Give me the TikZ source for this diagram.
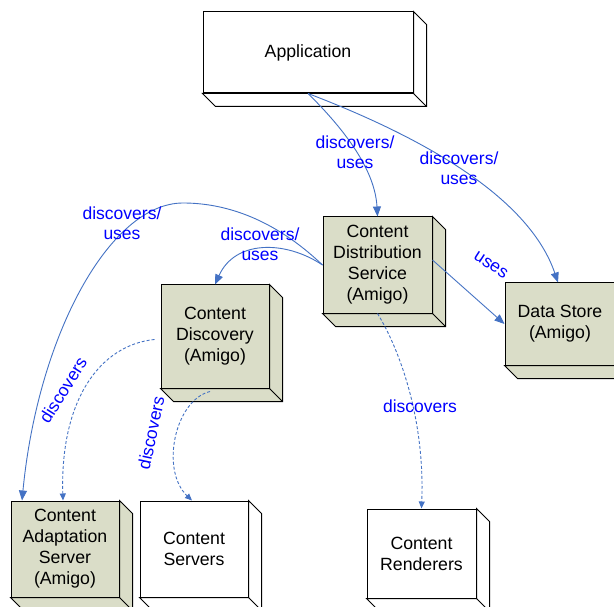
\documentclass[tikz,border=0pt]{standalone}
\usepackage{fontspec}
\setmainfont{Liberation Sans}
\usetikzlibrary{arrows.meta,calc}
\definecolor{boxfill}{RGB}{218,221,200}
\definecolor{linkblue}{RGB}{68,114,196}
\definecolor{labelblue}{RGB}{0,0,255}
\tikzset{
  box3d/.style={draw=black, line width=1pt, align=center, inner sep=0pt,
    font=\fontsize{17.7}{21}\selectfont},
  amigo/.style={box3d, fill=boxfill},
  plainbox/.style={box3d, fill=white},
  link/.style={draw=linkblue, line width=0.9pt, -{Triangle[length=10pt,width=8pt]}},
  dlink/.style={draw=linkblue, line width=0.9pt, dash pattern=on 3pt off 2pt,
    -{Triangle[length=7pt,width=6pt]}},
  lbl/.style={text=labelblue, align=center, inner sep=0pt,
    font=\fontsize{17.5}{20.5}\selectfont},
}
\newcommand\boxdepth[2]{%
  \draw[line width=1pt, fill=#2] (#1.north east) -- ++(13,13)
    -- ($(#1.south east)+(13,13)$) -- ($(#1.south west)+(13,13)$)
    -- (#1.south west) -- (#1.south east) -- cycle;
  \draw[line width=1pt] (#1.south east) -- ++(13,13);
}
\begin{document}
\begin{tikzpicture}[x=1pt,y=-1pt]
\clip (0,0) rectangle (614,607);
\fill[white] (0,0) rectangle (614,607);

% boxes
\node[plainbox, minimum width=210pt, minimum height=81pt] (app) at (308,52.5) {Application};
\node[amigo, minimum width=109pt, minimum height=96pt] (cds) at (377.5,265) {Content\\Distribution\\Service\\(Amigo)};
\node[amigo, minimum width=108pt, minimum height=103pt] (cd) at (215,336.5) {Content\\Discovery\\(Amigo)};
\node[amigo, minimum width=110pt, minimum height=82pt] (ds) at (560,324) {Data Store\\(Amigo)};
\node[amigo, minimum width=108pt, minimum height=96pt] (cas) at (65,549) {Content\\Adaptation\\Server\\(Amigo)};
\node[plainbox, minimum width=108pt, minimum height=96pt] (cs) at (194,549) {Content\\Servers};
\node[plainbox, minimum width=109pt, minimum height=89pt] (cr) at (421.5,553.5) {Content\\Renderers};

\boxdepth{app}{white}
\boxdepth{cds}{boxfill}
\boxdepth{cd}{boxfill}
\boxdepth{ds}{boxfill}
\boxdepth{cas}{boxfill}
\boxdepth{cs}{white}
\boxdepth{cr}{white}

% connectors
\draw[link] (app.south) .. controls (345,130) and (375,170) .. (cds.north);
\draw[link] (app.south) .. controls (430,140) and (530,200) .. ([xshift=-2pt]ds.north);
\draw[link] (cds.west) .. controls (285,240) and (235,240) .. (cd.north);
\draw[link] (cds.west) .. controls (270,215) and (220,203) .. (183,203)
   .. controls (110,203) and (38,335) .. ([xshift=-43pt]cas.north);
\draw[link] ([yshift=5pt]cds.east) -- (ds.west);
\draw[dlink] (cds.south) .. controls (400,350) and (425,420) .. (cr.north);
\draw[dlink] ([shift={(-6,3)}]cd.west) .. controls (100,345) and (60,400) .. ([xshift=-2pt]cas.north);
\draw[dlink] ([shift={(-5,3)}]cd.south) .. controls (175,400) and (160,470) .. ([xshift=-2pt]cs.north);

% labels
\node[lbl] (l1) at (355,152) {discovers/\\uses};
\node[lbl] (l2) at (459,168) {discovers/\\uses};
\node[lbl] (l3) at (122,223) {discovers/\\uses};
\node[lbl] (l4) at (260,244) {discovers/\\uses};
\node[lbl, rotate=-33] (l5) at (491,265) {uses};
\node[lbl, rotate=58] (l6) at (63,390) {discovers};
\node[lbl, rotate=78] (l7) at (151,433) {discovers};
\node[lbl] (l8) at (420,406) {discovers};
\end{tikzpicture}
\end{document}
